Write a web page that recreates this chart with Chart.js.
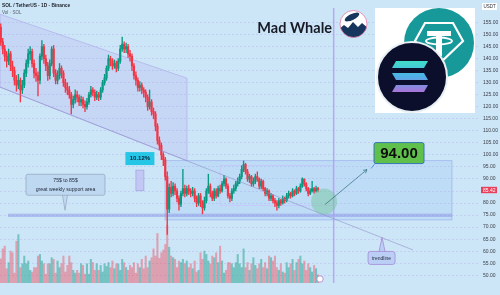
<!DOCTYPE html>
<html>
<head>
<meta charset="utf-8">
<style>
  html, body { margin: 0; padding: 0; background: #cde6f7; }
  #wrap { width: 500px; height: 295px; }
</style>
<script src="https://cdn.jsdelivr.net/npm/chart.js@4.4.1/dist/chart.umd.min.js"></script>
</head>
<body>
<div id="wrap"><canvas id="chart" width="500" height="295"></canvas></div>
<script>
// days are counted from 1 Dec 2025, first candle is 12 Nov 2025
const firstDay = -19;
const firstOpen = 153;

const closes = [147,144,141,139,142,137,135,131,129,131,
  127,129,134,138,142,143,138,134,133,131,
  141,145,140,137,133,138,144,134,131,133,
  136,134,130,128,127,125,121,123,125,124,
  122,123,121,120,122,125,127,126,124,125,
  124,127,130,132,136,140,139,137,138,136,
  139,144,146,144,145,142,141,137,133,131,
  128,129,127,126,124,120,122,118,117,112,
  106,104,100,98,91,77.5,86.5,84,87,85,
  82,79.5,84,86,84,86,85,84,85,82,
  80,83,80,78,81,85,87,84,82,85,
  83,86,85,88,90,87,83,82,85,86,
  88,89,91,94,96,93,90,91,88,89,
  91,90,87,89,86,84,85,82,83,81,
  80,79,81,80,82,81,83,84,83,85,
  84,86,85,87,90,88,86,84,85,86,
  85,86,85.42];

const highs = [154.5,148.5,145.5,143,144,143,139,136.5,133,133.5,
  132,131,135.5,139.5,144,145,144,139.5,136,134.5,
  142,147.5,146,141.5,138.5,139.5,145,145.5,135.5,135,
  138,137,135,131.5,130,128.5,126,124.5,127,126.5,
  125,124.5,124,122.5,123.5,126,128.5,128,127,126.5,
  126,128,131,133.5,137,141.5,141,140,139.5,139,
  140,145.5,149,147,146.5,146,143.5,142,138,134.5,
  132,130.5,130,128,127,125,127,123,119.5,118,
  113,107.5,105,101,99,93,88,89,88.5,88,
  86,83,85,94,87.5,87,87.5,86,86.5,86,
  83,84,84,81,82.5,86,92,88,85,86,
  86,87,87.5,89,91.5,90.5,88,84,86,87.5,
  89,90.5,92,95.5,97.5,96.5,94,92,91.5,90.5,
  92,93,90.5,90,89.5,86.5,86,85.5,84,83.5,
  82,81,82,81.5,83,82.5,84,85,84.5,86,
  85.5,87,86.5,88,90.5,90,88.5,86.5,86,89,
  86.5,87,86.5];

const lows = [145.5,142,139,136.5,137.5,135,132.5,129,126.5,127.5,
  122,125.5,128,132.5,136.5,139.5,136.5,132,130.5,124.5,
  129.5,139.5,138,135,131,131.5,137,132.5,129.5,129.5,
  131.5,132,128.5,126,125,123.5,117,119.5,121.5,122,
  120.5,120.5,119.5,118,119,121,124,124.5,122.5,123,
  122.5,123,126,129,131,135,137,135.5,136,134.5,
  135,138,143,142.5,142.5,140.5,139,135,131.5,129,
  126.5,126.5,125.5,124,122,118.5,119,116.5,115,110,
  104.5,102,98,95.5,89.5,67,76,82.5,83,83.5,
  80.5,77,78.5,83,82.5,83,83.5,82.5,83,80.5,
  78.5,79,78.5,75.5,77,80,84,82.5,81,81,
  82,82.5,84,84.5,87,86,82,80.5,81,84,
  85,87,88,90,93,92,89,88.5,87,87,
  88,89,86,86,85,83,83,81,81,80,
  78.5,77,78,79,79.5,80,80.5,82,82,82.5,
  83,83.5,84,84.5,86.5,87,85,83,83.5,84.5,
  84,84.5,84.6];

// volume in millions of SOL
const volumes = [4.4,6.2,6.7,2.6,3.7,5.8,5.5,1.8,7.6,8.8,
  2.8,3.5,4.9,3.5,4.0,2.3,2.0,2.8,2.8,4.9,
  5.2,4.0,3.5,1.6,3.5,3.5,4.6,4.3,1.8,4.0,
  2.8,3.5,4.9,2.0,3.2,4.9,3.7,2.3,1.8,2.3,
  1.8,3.5,3.2,1.6,3.5,1.6,4.3,3.7,2.3,3.5,
  2.3,3.2,2.0,3.5,3.0,3.7,2.8,4.0,2.6,3.5,
  3.5,2.3,4.3,3.7,2.8,2.3,3.2,2.8,3.7,1.8,
  3.5,2.8,4.3,2.6,4.9,2.8,4.0,4.6,6.2,4.9,
  9.0,4.5,5.5,6.0,7.0,10.5,6.5,4.9,4.6,4.3,
  2.8,4.0,3.7,4.3,3.5,4.0,2.8,3.5,2.6,4.0,
  2.0,2.3,5.5,4.3,5.8,5.2,4.0,3.5,4.9,4.6,
  5.5,3.7,6.7,4.0,1.8,2.3,3.7,3.7,3.5,2.8,
  3.7,5.2,3.5,2.8,6.2,2.8,3.7,2.3,3.5,4.6,
  3.2,2.6,3.5,4.3,2.8,3.7,2.6,4.9,4.6,4.0,
  4.9,2.8,2.3,3.5,2.0,1.8,3.7,2.8,3.5,4.3,
  2.3,3.7,4.3,4.9,3.5,4.0,2.3,3.5,2.8,2.0,
  3.2,2.6,1.5];

const monthTicks = [0, 31, 62, 90, 121, 151, 182, 212];
const monthLabels = ["Dec", "2026", "Feb", "Mar", "Apr", "May", "Jun", "Jul"];
const priceTicks = [50,55,60,65,70,75,80,85,90,95,100,105,110,115,120,125,130,135,140,145,150,155];
const lastPrice = 85.42;
const targetLabel = "94.00";
const moveLabel = "10.12%";

// drawings, in (day, price)
const channel = [[-19.4, 158.5], [76.1, 131.9], [76.1, 97.6], [-19.4, 128.2]];
const trendline = [[-19.4, 128.2], [191.5, 60.5]];
const rangeBox = [64.9, 211.4, 73.0, 97.6];
const innerBox = [93, 150.7, 79, 95.6];
const supportBand = [-15.3, 211.4, 74.2, 75.6];
const markerDay = 151;
const measureBox = [50, 54.1, 85.1, 93.7];
const circlePt = [146.1, 80.6];
const arrowPts = [[146.6, 79.4], [168, 93.9]];
const targetPt = [171.6, 96.4];
const supportTip = [13.8, 77.0];
const trendTip = [175.7, 65.7];

const days = closes.map((c, i) => firstDay + i);
const opens = closes.map((c, i) => i === 0 ? firstOpen : closes[i - 1]);
const isUp = closes.map((c, i) => c >= opens[i]);

const GREEN = "#089981";
const RED = "#f23645";

function box(ctx, x, y, w, h, r) {
  ctx.beginPath();
  ctx.moveTo(x + r, y);
  ctx.lineTo(x + w - r, y);
  ctx.quadraticCurveTo(x + w, y, x + w, y + r);
  ctx.lineTo(x + w, y + h - r);
  ctx.quadraticCurveTo(x + w, y + h, x + w - r, y + h);
  ctx.lineTo(x + r, y + h);
  ctx.quadraticCurveTo(x, y + h, x, y + h - r);
  ctx.lineTo(x, y + r);
  ctx.quadraticCurveTo(x, y, x + r, y);
  ctx.closePath();
}

const drawings = {
  id: "drawings",
  beforeDraw(chart) {
    const ctx = chart.ctx;
    ctx.save();
    ctx.fillStyle = "#cde6f7";
    ctx.fillRect(0, 0, chart.width, chart.height);
    ctx.restore();
  },
  beforeDatasetsDraw(chart) {
    const ctx = chart.ctx;
    const X = v => chart.scales.x.getPixelForValue(v);
    const Y = v => chart.scales.y.getPixelForValue(v);
    const a = chart.chartArea;
    ctx.save();

    // falling channel
    ctx.beginPath();
    channel.forEach((p, i) => i ? ctx.lineTo(X(p[0]), Y(p[1])) : ctx.moveTo(X(p[0]), Y(p[1])));
    ctx.closePath();
    ctx.fillStyle = "rgba(175,160,240,0.22)";
    ctx.fill();
    ctx.strokeStyle = "rgba(170,160,230,0.7)";
    ctx.lineWidth = 0.8;
    ctx.stroke();

    // range box
    ctx.fillStyle = "rgba(120,170,240,0.16)";
    ctx.fillRect(X(rangeBox[0]), Y(rangeBox[3]), X(rangeBox[1]) - X(rangeBox[0]), Y(rangeBox[2]) - Y(rangeBox[3]));
    ctx.strokeStyle = "rgba(150,170,235,0.8)";
    ctx.lineWidth = 0.8;
    ctx.strokeRect(X(rangeBox[0]), Y(rangeBox[3]), X(rangeBox[1]) - X(rangeBox[0]), Y(rangeBox[2]) - Y(rangeBox[3]));

    ctx.strokeStyle = "rgba(200,195,250,0.9)";
    ctx.strokeRect(X(innerBox[0]), Y(innerBox[3]), X(innerBox[1]) - X(innerBox[0]), Y(innerBox[2]) - Y(innerBox[3]));

    // support band
    ctx.fillStyle = "rgba(140,150,230,0.5)";
    ctx.fillRect(X(supportBand[0]), Y(supportBand[3]), X(supportBand[1]) - X(supportBand[0]), Y(supportBand[2]) - Y(supportBand[3]));

    // 1 May marker
    ctx.strokeStyle = "rgba(175,155,240,0.8)";
    ctx.lineWidth = 1.5;
    ctx.beginPath();
    ctx.moveTo(X(markerDay), a.top);
    ctx.lineTo(X(markerDay), a.bottom);
    ctx.stroke();

    // measure
    ctx.fillStyle = "rgba(185,175,240,0.55)";
    const mx = X(measureBox[0]), my = Y(measureBox[3]);
    const mw = X(measureBox[1]) - mx, mh = Y(measureBox[2]) - my;
    ctx.fillRect(mx, my, mw, mh);
    ctx.strokeStyle = "rgba(150,140,220,0.8)";
    ctx.lineWidth = 0.6;
    ctx.strokeRect(mx, my, mw, mh);
    ctx.restore();
  },
  afterDatasetsDraw(chart) {
    const ctx = chart.ctx;
    const X = v => chart.scales.x.getPixelForValue(v);
    const Y = v => chart.scales.y.getPixelForValue(v);
    const a = chart.chartArea;
    ctx.save();

    // trendline
    ctx.strokeStyle = "rgba(140,140,200,0.8)";
    ctx.lineWidth = 0.7;
    ctx.beginPath();
    ctx.moveTo(X(trendline[0][0]), Y(trendline[0][1]));
    ctx.lineTo(X(trendline[1][0]), Y(trendline[1][1]));
    ctx.stroke();

    // circle + arrow
    ctx.fillStyle = "rgba(110,195,150,0.45)";
    ctx.beginPath();
    ctx.arc(X(circlePt[0]), Y(circlePt[1]), 13, 0, Math.PI * 2);
    ctx.fill();
    const ax0 = X(arrowPts[0][0]), ay0 = Y(arrowPts[0][1]);
    const ax1 = X(arrowPts[1][0]), ay1 = Y(arrowPts[1][1]);
    ctx.strokeStyle = "#2d6f78";
    ctx.lineWidth = 0.7;
    ctx.beginPath();
    ctx.moveTo(ax0, ay0);
    ctx.lineTo(ax1, ay1);
    const ang = Math.atan2(ay1 - ay0, ax1 - ax0);
    ctx.moveTo(ax1 - 4 * Math.cos(ang - 0.5), ay1 - 4 * Math.sin(ang - 0.5));
    ctx.lineTo(ax1, ay1);
    ctx.lineTo(ax1 - 4 * Math.cos(ang + 0.5), ay1 - 4 * Math.sin(ang + 0.5));
    ctx.stroke();

    // target label
    const tx = X(targetPt[0]), ty = Y(targetPt[1]);
    ctx.strokeStyle = "#2a7fc0";
    ctx.beginPath();
    ctx.moveTo(tx - 3, ty + 5);
    ctx.lineTo(tx + 1, ty);
    ctx.stroke();
    box(ctx, tx, ty - 21, 50, 21, 2);
    ctx.fillStyle = "#5fc14c";
    ctx.fill();
    ctx.strokeStyle = "#2a6cb8";
    ctx.lineWidth = 0.9;
    ctx.stroke();
    ctx.fillStyle = "#0d0d0d";
    ctx.font = "bold 15px 'Liberation Sans'";
    ctx.textAlign = "center";
    ctx.textBaseline = "middle";
    ctx.fillText(targetLabel, tx + 25, ty - 10);

    // move label
    const mcx = (X(measureBox[0]) + X(measureBox[1])) / 2;
    const mtop = Y(measureBox[3]);
    ctx.fillStyle = "#25c6e6";
    ctx.fillRect(mcx - 14.5, mtop - 18, 29, 13);
    ctx.fillStyle = "#10203a";
    ctx.font = "bold 6px 'Liberation Sans'";
    ctx.fillText(moveLabel, mcx, mtop - 11.3);

    // support callout
    const sx = X(supportTip[0]), sy = Y(supportTip[1]);
    ctx.beginPath();
    ctx.moveTo(sx - 2.5, sy - 15);
    ctx.lineTo(sx, sy);
    ctx.lineTo(sx + 2.5, sy - 15);
    ctx.fillStyle = "rgba(190,215,240,0.95)";
    ctx.fill();
    ctx.strokeStyle = "#8a9bb0";
    ctx.lineWidth = 0.6;
    ctx.stroke();
    box(ctx, sx - 39, sy - 36, 79, 21, 2);
    ctx.fill();
    ctx.stroke();
    ctx.fillStyle = "#1e2838";
    ctx.font = "5.2px 'Liberation Sans'";
    ctx.fillText("75$ to 85$", sx + 0.5, sy - 30);
    ctx.fillText("great weekly support area", sx + 0.5, sy - 21);

    // trendline callout
    const rx = X(trendTip[0]), ry = Y(trendTip[1]);
    ctx.beginPath();
    ctx.moveTo(rx - 3, ry + 14);
    ctx.lineTo(rx, ry);
    ctx.lineTo(rx + 3, ry + 14);
    ctx.fillStyle = "rgba(185,205,245,0.95)";
    ctx.fill();
    ctx.strokeStyle = "#9a70c8";
    ctx.lineWidth = 0.6;
    ctx.stroke();
    box(ctx, rx - 14, ry + 14, 27, 13, 2.5);
    ctx.fill();
    ctx.stroke();
    ctx.fillStyle = "#1e2838";
    ctx.font = "5px 'Liberation Sans'";
    ctx.fillText("trendline", rx - 0.5, ry + 20.7);

    // event icon
    ctx.beginPath();
    ctx.arc(320, a.bottom - 4, 3.2, 0, Math.PI * 2);
    ctx.fillStyle = "#ffffff";
    ctx.fill();
    ctx.strokeStyle = "#a070c0";
    ctx.lineWidth = 0.7;
    ctx.stroke();

    // header
    ctx.textAlign = "left";
    ctx.fillStyle = "#1c1f2a";
    ctx.font = "bold 4.8px 'Liberation Sans'";
    ctx.fillText("SOL / TetherUS \u00b7 1D \u00b7 Binance", 2, 6);
    ctx.fillStyle = "#5a5f70";
    ctx.font = "4.6px 'Liberation Sans'";
    ctx.fillText("Vol \u00b7 SOL", 2, 13);

    // title
    ctx.fillStyle = "#181a26";
    ctx.font = "bold 14.5px Lato";
    ctx.textAlign = "right";
    ctx.textBaseline = "alphabetic";
    ctx.fillText("Mad Whale", 332, 33);

    // whale badge
    ctx.save();
    ctx.beginPath();
    ctx.arc(353.5, 24, 13.5, 0, Math.PI * 2);
    ctx.fillStyle = "#ffffff";
    ctx.fill();
    ctx.clip();
    ctx.fillStyle = "#17365d";
    ctx.beginPath();
    ctx.moveTo(339, 29); ctx.lineTo(344, 25); ctx.lineTo(348, 28); ctx.lineTo(353, 22);
    ctx.lineTo(358, 27); ctx.lineTo(362, 23); ctx.lineTo(368, 28); ctx.lineTo(368, 40); ctx.lineTo(339, 40);
    ctx.closePath();
    ctx.fill();
    ctx.beginPath();
    ctx.ellipse(352, 17, 8, 3, -0.45, 0, Math.PI * 2);
    ctx.fill();
    ctx.restore();
    ctx.beginPath();
    ctx.arc(353.5, 24, 13.5, 0, Math.PI * 2);
    ctx.strokeStyle = "#e07aa5";
    ctx.lineWidth = 0.8;
    ctx.stroke();

    // coin logos
    ctx.fillStyle = "#ffffff";
    ctx.fillRect(375, 8, 100, 105);
    ctx.fillStyle = "#17999a";
    ctx.beginPath();
    ctx.arc(439, 43, 35, 0, Math.PI * 2);
    ctx.fill();
    ctx.strokeStyle = "#ffffff";
    ctx.lineWidth = 2.2;
    ctx.beginPath();
    ctx.moveTo(425, 23); ctx.lineTo(453, 23); ctx.lineTo(463, 41); ctx.lineTo(439, 64); ctx.lineTo(415, 41);
    ctx.closePath();
    ctx.stroke();
    ctx.fillStyle = "#ffffff";
    ctx.fillRect(427, 31, 24, 5);
    ctx.fillRect(436, 36, 6, 20);
    ctx.lineWidth = 1.8;
    ctx.beginPath();
    ctx.ellipse(439, 41, 13, 3.5, 0, 0, Math.PI * 2);
    ctx.stroke();

    ctx.beginPath();
    ctx.arc(412, 77, 35, 0, Math.PI * 2);
    ctx.fillStyle = "#0b0f2c";
    ctx.fill();
    ctx.strokeStyle = "#e8f0f4";
    ctx.lineWidth = 2;
    ctx.stroke();
    const g = ctx.createLinearGradient(0, 60, 0, 93);
    g.addColorStop(0, "#3fe0c8");
    g.addColorStop(0.5, "#4fb0e8");
    g.addColorStop(1, "#b070d8");
    ctx.fillStyle = g;
    [[61, 1], [73, -1], [85, 1]].forEach(([y, s]) => {
      ctx.beginPath();
      if (s > 0) {
        ctx.moveTo(396, y); ctx.lineTo(428, y); ctx.lineTo(424, y + 7); ctx.lineTo(392, y + 7);
      } else {
        ctx.moveTo(392, y); ctx.lineTo(424, y); ctx.lineTo(428, y + 7); ctx.lineTo(396, y + 7);
      }
      ctx.closePath();
      ctx.fill();
    });
    ctx.restore();
  },
  afterDraw(chart) {
    const ctx = chart.ctx;
    const Y = v => chart.scales.y.getPixelForValue(v);
    const a = chart.chartArea;
    ctx.save();
    // last price tag
    const py = Y(lastPrice);
    ctx.fillStyle = "#e8405a";
    ctx.fillRect(a.right + 3, py - 3.2, 16, 6.4);
    ctx.fillStyle = "#ffffff";
    ctx.font = "5px 'Liberation Sans'";
    ctx.textAlign = "left";
    ctx.textBaseline = "middle";
    ctx.fillText(lastPrice.toFixed(2), a.right + 5, py + 0.2);
    // currency tag
    ctx.fillStyle = "#ffffff";
    ctx.fillRect(a.right + 4, 3, 15, 7);
    ctx.fillStyle = "#2a2e3a";
    ctx.font = "4.5px 'Liberation Sans'";
    ctx.fillText("USDT", a.right + 5.5, 6.6);
    ctx.restore();
  }
};

new Chart(document.getElementById("chart"), {
  data: {
    datasets: [
      {
        type: "bar",
        yAxisID: "vol",
        order: 3,
        grouped: false,
        barThickness: 1.4,
        data: days.map((d, i) => ({ x: d, y: volumes[i] })),
        backgroundColor: isUp.map(u => u ? "rgba(8,153,129,0.45)" : "rgba(242,54,69,0.4)")
      },
      {
        type: "bar",
        yAxisID: "y",
        order: 2,
        grouped: false,
        barThickness: 0.7,
        data: days.map((d, i) => ({ x: d, y: [lows[i], highs[i]] })),
        backgroundColor: isUp.map(u => u ? GREEN : RED)
      },
      {
        type: "bar",
        yAxisID: "y",
        order: 1,
        grouped: false,
        barThickness: 1.5,
        minBarLength: 0.7,
        data: days.map((d, i) => ({ x: d, y: [opens[i], closes[i]] })),
        backgroundColor: isUp.map(u => u ? GREEN : RED)
      }
    ]
  },
  options: {
    responsive: false,
    animation: false,
    devicePixelRatio: 1,
    layout: { padding: 0 },
    plugins: { legend: { display: false }, tooltip: { enabled: false } },
    scales: {
      x: {
        type: "linear",
        min: -19.4,
        max: 224.7,
        offset: false,
        grid: { display: false },
        border: { display: false },
        afterBuildTicks: s => { s.ticks = monthTicks.map(v => ({ value: v })); },
        afterFit: s => { s.height = 12; },
        ticks: {
          autoSkip: false,
          maxRotation: 0,
          padding: 3,
          color: "#4b4f5c",
          font: c => ({ family: "Liberation Sans", size: 5.5, weight: c.tick && c.tick.value === 31 ? "bold" : "normal" }),
          callback: v => monthLabels[monthTicks.indexOf(v)]
        }
      },
      y: {
        type: "linear",
        position: "right",
        min: 46.77,
        max: 161.06,
        afterBuildTicks: s => { s.ticks = priceTicks.map(v => ({ value: v })); },
        afterFit: s => { s.width = 22; },
        grid: { color: "rgba(165,145,230,0.45)", lineWidth: 0.6, drawTicks: false },
        border: { display: false, dash: [2, 2] },
        ticks: {
          padding: 5,
          color: "#3a3e4a",
          font: { family: "Liberation Sans", size: 5 },
          callback: v => v.toFixed(2)
        }
      },
      vol: { type: "linear", display: false, min: 0, max: 50 }
    }
  },
  plugins: [drawings]
});
</script>
</body>
</html>
